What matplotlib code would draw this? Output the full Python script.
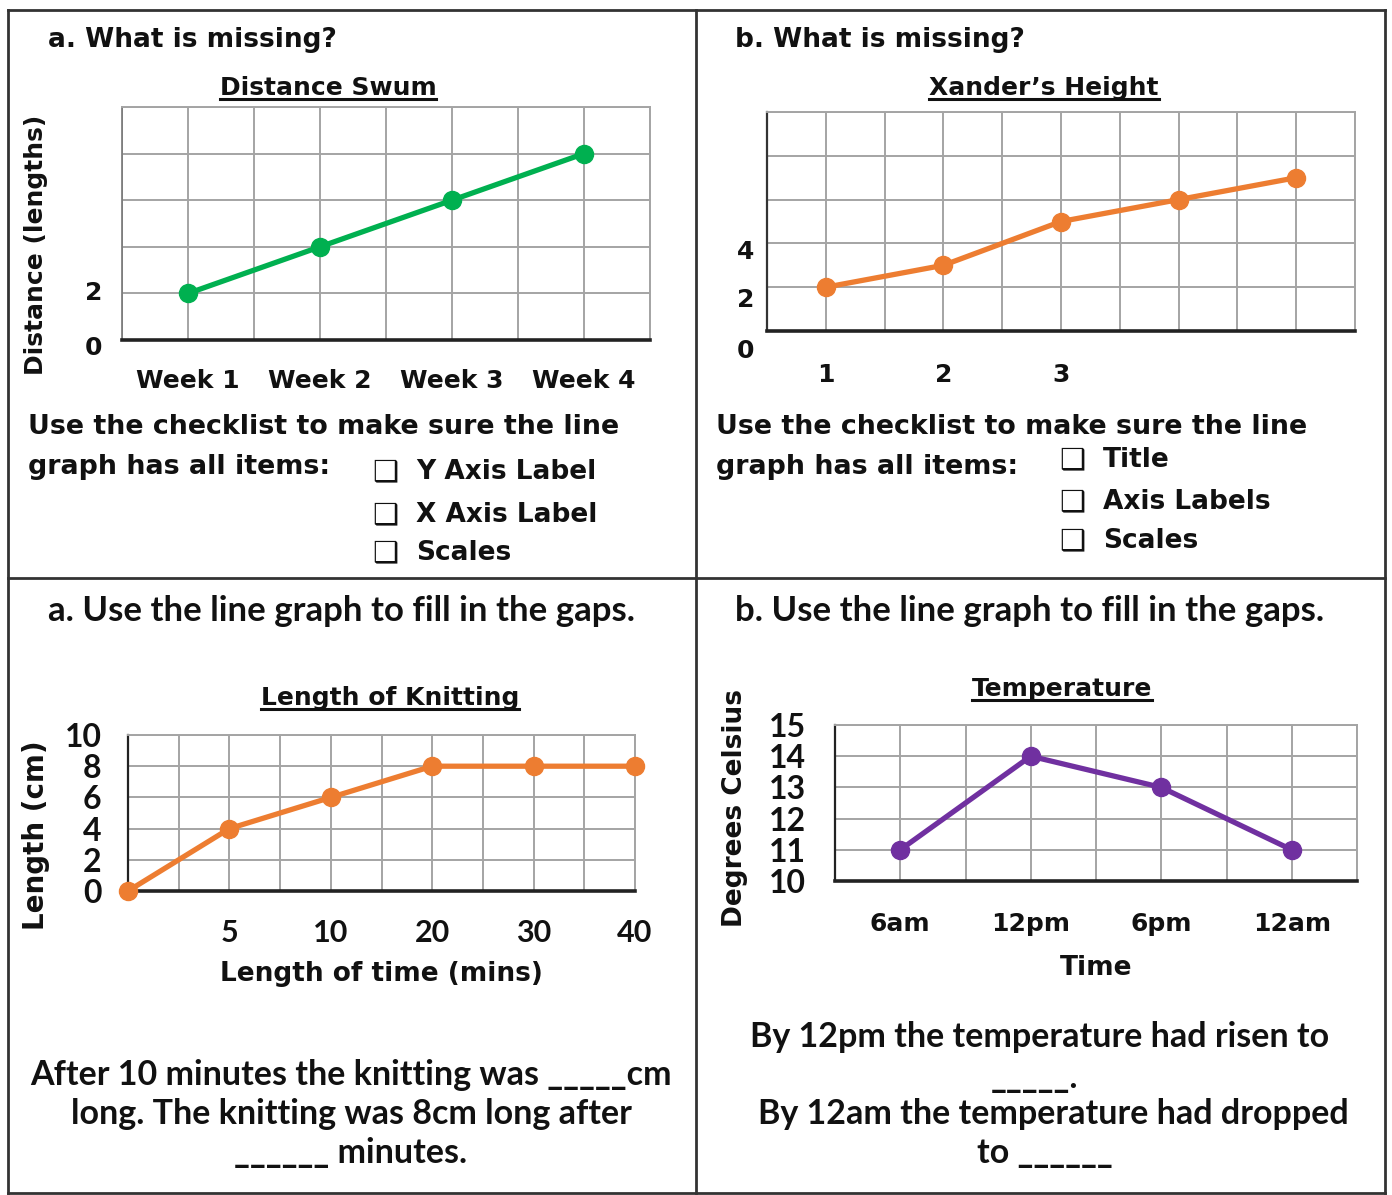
import matplotlib
matplotlib.use("Agg")
import matplotlib.pyplot as plt
from matplotlib.ticker import MultipleLocator
from matplotlib.lines import Line2D
from matplotlib import font_manager

# ---------------- data ----------------
swim_weeks = ["Week 1", "Week 2", "Week 3", "Week 4"]
swim_lengths = [2, 4, 6, 8]
swim_yticks = [0, 2]

height_x = [1, 2, 3, 4, 5]
height_vals = [2, 3, 5, 6, 7]
height_xticks = ["1", "2", "3"]
height_yticks = ["0", "2", "4"]

knit_times = ["0", "5", "10", "20", "30", "40"]
knit_lengths = [0, 4, 6, 8, 8, 8]
knit_yticks = [0, 2, 4, 6, 8, 10]

temp_times = ["6am", "12pm", "6pm", "12am"]
temp_vals = [11, 14, 13, 11]
temp_yticks = [10, 11, 12, 13, 14, 15]

GREEN = "#00B050"
ORANGE = "#ED7D31"
PURPLE = "#7030A0"
GRID = "#a4a4a4"

names = {f.name for f in font_manager.fontManager.ttflist}
NARROW = "Lato" if "Lato" in names else "DejaVu Sans"
FAM = ["DejaVu Sans"]
NFAM = [NARROW, "DejaVu Sans"]

W, H = 1392, 1195
fig = plt.figure(figsize=(W / 100, H / 100), dpi=100)
fig.patch.set_facecolor("white")


def fx(px):
    return px / W


def fy(py):
    return 1 - py / H


def txt(x, y, s, size=19, ha="left", va="center", fam=FAM, **kw):
    return fig.text(fx(x), fy(y), s, fontsize=size, ha=ha, va=va,
                    family=fam, fontweight="bold", color="#111111", **kw)


def make_ax(l, r, t, b):
    ax = fig.add_axes([fx(l), fy(b), fx(r) - fx(l), fy(t) - fy(b)])
    ax.set_facecolor("white")
    ax.set_axisbelow(True)
    ax.grid(True, which="both", color=GRID, lw=1.4)
    ax.tick_params(which="both", length=0)
    for s in ("top", "right"):
        ax.spines[s].set_color(GRID)
        ax.spines[s].set_linewidth(1.4)
    ax.spines["bottom"].set_color("#222222")
    ax.spines["bottom"].set_linewidth(2.6)
    ax.spines["left"].set_color("#333333")
    ax.spines["left"].set_linewidth(1.6)
    return ax


def tick_font(labels, size, fam=FAM):
    for lb in labels:
        lb.set_fontsize(size)
        lb.set_fontweight("bold")
        lb.set_family(fam)
        lb.set_color("#111111")


# ---------------- borders ----------------
for (x0, y0, x1, y1) in [(8, 10, 1385, 10), (8, 1193, 1385, 1193),
                          (8, 10, 8, 1193), (1385, 10, 1385, 1193),
                          (696, 10, 696, 1193), (8, 578, 1385, 578)]:
    fig.add_artist(Line2D([fx(x0), fx(x1)], [fy(y0), fy(y1)],
                          color="#333333", lw=2.0, transform=fig.transFigure))

titles = []

# ---------------- Panel A ----------------
txt(48, 40, "a. What is missing?", size=19)
titles.append(txt(328, 95, "Distance Swum", size=18, ha="center", va="baseline"))
ax = make_ax(122, 650, 107, 340)
xa = list(range(1, len(swim_weeks) + 1))
ax.plot(xa, swim_lengths, color=GREEN, lw=3.8, marker="o", ms=13,
        clip_on=False, zorder=3)
ax.set_xlim(0.5, 4.5)
ax.set_ylim(0, 10)
ax.xaxis.set_minor_locator(MultipleLocator(0.5))
ax.yaxis.set_major_locator(MultipleLocator(2))
ax.set_xticks(xa)
ax.set_xticklabels(swim_weeks)
tick_font(ax.get_xticklabels(), 18)
ax.tick_params(axis="x", pad=21)
ax.set_yticklabels([])
for v, dy in zip(swim_yticks, [-0.35, 0]):
    ax.text(-0.038, v + dy, str(v), transform=ax.get_yaxis_transform(),
            ha="right", va="center", fontsize=18, fontweight="bold",
            family=FAM, color="#111111")
ax.spines["left"].set_color("#777777")
ax.spines["left"].set_linewidth(1.2)
txt(36, 245, "Distance (lengths)", size=18, ha="center", rotation=90)

txt(28, 427, "Use the checklist to make sure the line", size=19.4)
txt(28, 467, "graph has all items:", size=19.4)
for y, s in [(472, "Y Axis Label"), (515, "X Axis Label"), (553, "Scales")]:
    txt(385, y, "\u2751", size=21, ha="center")
    txt(416, y, s, size=19)

# ---------------- Panel B ----------------
txt(735, 40, "b. What is missing?", size=19)
titles.append(txt(1044, 95, "Xander\u2019s Height", size=18, ha="center", va="baseline"))
ax = make_ax(767, 1355, 112, 331)
ax.plot(height_x, height_vals, color=ORANGE, lw=3.8, marker="o", ms=13,
        clip_on=False, zorder=3)
ax.set_xlim(0.5, 5.5)
ax.set_ylim(0, 10)
ax.xaxis.set_minor_locator(MultipleLocator(0.5))
ax.yaxis.set_major_locator(MultipleLocator(2))
ax.set_xticks(height_x[:len(height_xticks)])
ax.set_xticklabels(height_xticks)
tick_font(ax.get_xticklabels(), 18)
ax.tick_params(axis="x", pad=23)
ax.set_yticklabels([])
for v, dy in zip(height_yticks, [-0.9, 1.4, 3.6]):
    ax.text(-0.022, dy, v, transform=ax.get_yaxis_transform(),
            ha="right", va="center", fontsize=18, fontweight="bold",
            family=FAM, color="#111111")

txt(716, 427, "Use the checklist to make sure the line", size=19.4)
txt(716, 467, "graph has all items:", size=19.4)
for y, s in [(460, "Title"), (502, "Axis Labels"), (541, "Scales")]:
    txt(1072, y, "\u2751", size=21, ha="center")
    txt(1103, y, s, size=19)

# ---------------- Panel C ----------------
txt(48, 611, "a. Use the line graph to fill in the gaps.", size=25, fam=NFAM)
titles.append(txt(390, 705, "Length of Knitting", size=18, ha="center", va="baseline"))
ax = make_ax(128, 635, 735, 891)
xc = list(range(len(knit_times)))
ax.plot(xc, knit_lengths, color=ORANGE, lw=3.8, marker="o", ms=13,
        clip_on=False, zorder=3)
ax.set_xlim(0, 5)
ax.set_ylim(0, 10)
ax.xaxis.set_minor_locator(MultipleLocator(0.5))
ax.set_yticks(knit_yticks)
ax.set_yticklabels([str(v) for v in knit_yticks])
tick_font(ax.get_yticklabels(), 23, NFAM)
ax.set_xticks(xc[1:])
ax.set_xticklabels(knit_times[1:])
tick_font(ax.get_xticklabels(), 22, NFAM)
ax.tick_params(axis="x", pad=20)
ax.tick_params(axis="y", pad=19)
ax.spines["left"].set_color("#222222")
ax.set_xlabel("Length of time (mins)", fontsize=19, fontweight="bold",
              family=FAM, labelpad=10, color="#111111")
txt(36, 835, "Length (cm)", size=20, ha="center", rotation=90)

txt(351, 1075, "After 10 minutes the knitting was _____cm", size=24.5, ha="center", fam=NFAM)
txt(351, 1114, "long. The knitting was 8cm long after", size=24.5, ha="center", fam=NFAM)
txt(351, 1153, "______ minutes.", size=24.5, ha="center", fam=NFAM)

# ---------------- Panel D ----------------
txt(735, 611, "b. Use the line graph to fill in the gaps.", size=25, fam=NFAM)
titles.append(txt(1062, 696, "Temperature", size=18, ha="center", va="baseline"))
ax = make_ax(835, 1357, 725, 881)
xd = list(range(1, len(temp_times) + 1))
ax.plot(xd, temp_vals, color=PURPLE, lw=3.8, marker="o", ms=13,
        clip_on=False, zorder=3)
ax.set_xlim(0.5, 4.5)
ax.set_ylim(10, 15)
ax.xaxis.set_minor_locator(MultipleLocator(0.5))
ax.set_yticks(temp_yticks)
ax.set_yticklabels([str(v) for v in temp_yticks])
tick_font(ax.get_yticklabels(), 23, NFAM)
ax.set_xticks(xd)
ax.set_xticklabels(temp_times)
tick_font(ax.get_xticklabels(), 18)
ax.tick_params(axis="x", pad=22)
ax.tick_params(axis="y", pad=21)
ax.spines["left"].set_color("#222222")
ax.set_xlabel("Time", fontsize=19, fontweight="bold", family=FAM,
              labelpad=14, color="#111111")
txt(735, 808, "Degrees Celsius", size=19, ha="center", rotation=90)

txt(1040, 1037, "By 12pm the temperature had risen to", size=24.5, ha="center", fam=NFAM)
txt(1035, 1078, "_____.", size=24.5, ha="center", fam=NFAM)
txt(1053, 1114, "By 12am the temperature had dropped", size=24.5, ha="center", fam=NFAM)
txt(1045, 1153, "to ______", size=24.5, ha="center", fam=NFAM)

# ---------------- underline the chart titles ----------------
fig.canvas.draw()
r = fig.canvas.get_renderer()
for t in titles:
    bb = t.get_window_extent(r)
    yb = t.get_position()[1]
    yline = yb - 4 / H
    fig.add_artist(Line2D([bb.x0 / W, bb.x1 / W], [yline, yline],
                          color="#111111", lw=2.2, transform=fig.transFigure))

fig.savefig("out.png", dpi=100, facecolor="white")
